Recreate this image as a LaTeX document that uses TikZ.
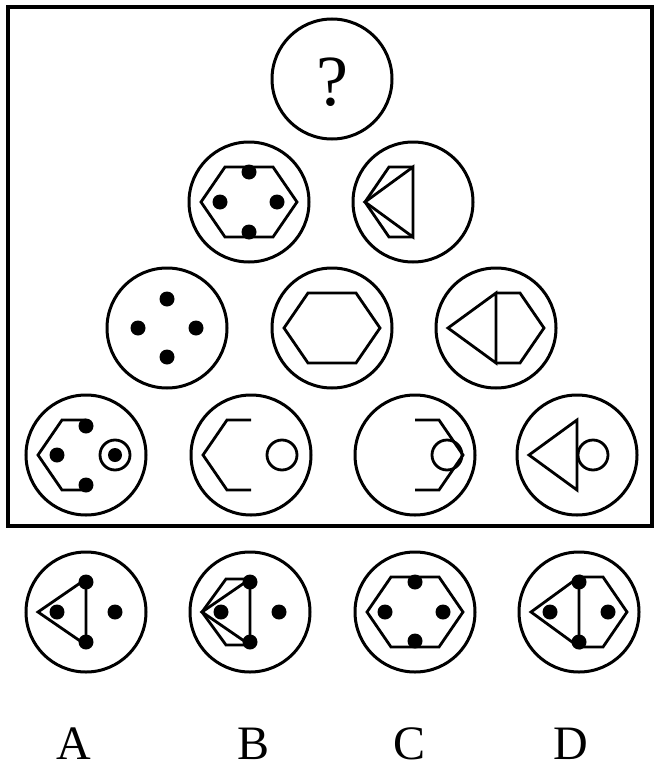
\documentclass[tikz,border=0pt]{standalone}
\usepackage{fontspec}
\setmainfont{Liberation Serif}
\usepackage{tikz}

\begin{document}
\begin{tikzpicture}[x=0.5pt, y=-0.5pt,
    rim/.style={line width=1.5pt},
    fig/.style={line width=1.4pt},
    dot/.style={fill=black},
    letter/.style={font=\fontsize{24}{24}\selectfont}]
    \useasboundingbox (0,0) rectangle (660,771);
    \draw[line width=1.8pt] (8,7) rectangle (652,526);
    % the fourteen discs
    \foreach \cx/\cy in {332/79, 249/202, 413/202, 167/328, 332/328, 496/328,
        86/455, 251/455, 415/455, 577/455, 86/612, 250/612, 415/612, 579/612}
        \draw[rim] (\cx,\cy) circle (30pt);
    \node[font=\fontsize{36}{36}\selectfont] (question) at (332,82) {?};

    % second row
    \begin{scope}[shift={(249,202)}]
        \draw[fig] (-48,0) -- (-24,-35) -- (24,-35) -- (48,0) -- (24,35) -- (-24,35) -- cycle;
        \foreach \p in {(0,-30),(-29,0),(28,0),(0,30)} \fill[dot] \p circle (3.75pt);
    \end{scope}
    \begin{scope}[shift={(413,202)}]
        \draw[fig] (0,-35) -- (-24,-35) -- (-48,0) -- (-24,35) -- (0,35);
        \draw[fig] (-48,0) -- (0,-35) -- (0,35) -- cycle;
    \end{scope}

    % third row
    \begin{scope}[shift={(167,328)}]
        \foreach \p in {(0,-29),(-29,0),(29,0),(0,29)} \fill[dot] \p circle (3.75pt);
    \end{scope}
    \begin{scope}[shift={(332,328)}]
        \draw[fig] (-48,0) -- (-24,-35) -- (24,-35) -- (48,0) -- (24,35) -- (-24,35) -- cycle;
    \end{scope}
    \begin{scope}[shift={(496,328)}]
        \draw[fig] (-48,0) -- (0,-35) -- (0,35) -- cycle;
        \draw[fig] (0,-35) -- (24,-35) -- (48,0) -- (24,35) -- (0,35);
    \end{scope}

    % bottom row
    \begin{scope}[shift={(86,455)}]
        \draw[fig] (0,-35) -- (-24,-35) -- (-48,0) -- (-24,35) -- (0,35);
        \foreach \p in {(0,-29),(-29,0),(0,30)} \fill[dot] \p circle (3.75pt);
        \draw[fig] (29,0) circle (7.5pt);
        \fill[dot] (29,0) circle (3.5pt);
    \end{scope}
    \begin{scope}[shift={(251,455)}]
        \draw[fig] (0,-35) -- (-24,-35) -- (-48,0) -- (-24,35) -- (0,35);
        \draw[fig] (31,0) circle (7.5pt);
    \end{scope}
    \begin{scope}[shift={(415,455)}]
        \draw[fig] (0,-35) -- (24,-35) -- (48,0) -- (24,35) -- (0,35);
        \draw[fig] (32,0) circle (7.5pt);
    \end{scope}
    \begin{scope}[shift={(577,455)}]
        \draw[fig] (-48,0) -- (0,-35) -- (0,35) -- cycle;
        \draw[fig] (16,0) circle (7.5pt);
    \end{scope}

    % answer choices
    \begin{scope}[shift={(86,612)}]
        \draw[fig] (-48,0) -- (0,-33) -- (0,33) -- cycle;
        \foreach \p in {(0,-30),(-29,0),(29,0),(0,30)} \fill[dot] \p circle (3.75pt);
    \end{scope}
    \begin{scope}[shift={(250,612)}]
        \draw[fig] (0,-33) -- (-24,-33) -- (-48,0) -- (-24,33) -- (0,33);
        \draw[fig] (-48,0) -- (0,-33) -- (0,33) -- cycle;
        \foreach \p in {(0,-30),(-29,0),(29,0),(0,30)} \fill[dot] \p circle (3.75pt);
    \end{scope}
    \begin{scope}[shift={(415,612)}]
        \draw[fig] (-48,0) -- (-24,-35) -- (24,-35) -- (48,0) -- (24,35) -- (-24,35) -- cycle;
        \foreach \p in {(0,-30),(-30,0),(28,0),(0,29)} \fill[dot] \p circle (3.75pt);
    \end{scope}
    \begin{scope}[shift={(579,612)}]
        \draw[fig] (-48,0) -- (0,-35) -- (0,35) -- cycle;
        \draw[fig] (0,-35) -- (24,-35) -- (48,0) -- (24,35) -- (0,35);
        \foreach \p in {(0,-30),(-29,0),(29,0),(0,30)} \fill[dot] \p circle (3.75pt);
    \end{scope}

    \node[letter] (labA) at (74,744) {A};
    \node[letter] (labB) at (254,744) {B};
    \node[letter] (labC) at (410,744) {C};
    \node[letter] (labD) at (571,744) {D};
\end{tikzpicture}
\end{document}
